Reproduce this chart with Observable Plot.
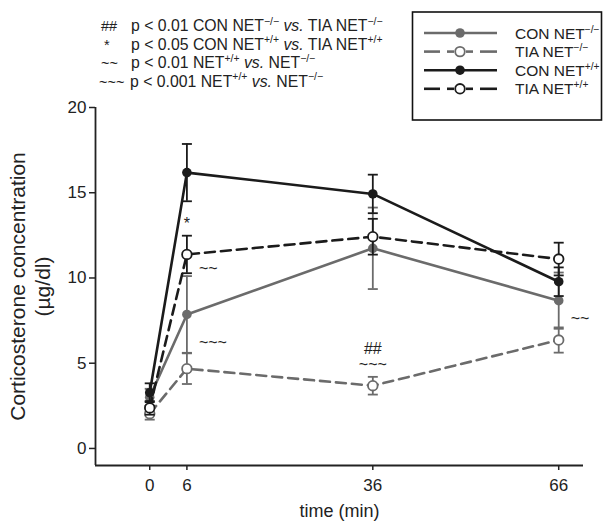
<!DOCTYPE html>
<html>
<head>
<meta charset="utf-8">
<script src="https://cdn.jsdelivr.net/npm/d3@7"></script>
<script src="https://cdn.jsdelivr.net/npm/@observablehq/plot@0.6"></script>
<style>
  html, body { margin: 0; padding: 0; background: #fff; }
  #chart { width: 612px; height: 523px; }
</style>
</head>
<body>
<div id="chart"></div>
<script>
// ---------- data ----------
const times = [0, 6, 36, 66];
const yTicks = [0, 5, 10, 15, 20];

const conKO_mean = [3.0, 7.86, 11.74, 8.67];
const conKO_se   = [0.5, 2.25, 2.39, 1.65];
const tiaKO_mean = [2.04, 4.68, 3.68, 6.36];
const tiaKO_se   = [0.35, 0.9, 0.52, 0.74];
const conWT_mean = [3.27, 16.18, 14.93, 9.78];
const conWT_se   = [0.55, 1.68, 1.13, 0.84];
const tiaWT_mean = [2.38, 11.38, 12.42, 11.11];
const tiaWT_se   = [0.4, 1.1, 1.05, 0.96];

// significance marks placed in data space (time, value)
const annoTime  = [6, 6, 6, 36, 36, 66];
const annoValue = [13.19, 10.55, 6.22, 5.83, 4.91, 7.61];
const annoText  = ["*", "~~", "~~~", "##", "~~~", "~~"];
const annoSide  = ["center", "right", "right", "center", "center", "right"];

const xLabel = "time (min)";
const yLabel1 = "Corticosterone concentration";
const yLabel2 = "(µg/dl)";

// ---------- styling ----------
const FONT = '"Liberation Sans", Arial, Helvetica, sans-serif';
const GRAY = "#6b6b6b";
const BLACK = "#1b1b1b";

const series = [
  {name: "CON", geno: "−/−", mean: conKO_mean, se: conKO_se, color: GRAY, dashed: false},
  {name: "TIA", geno: "−/−", mean: tiaKO_mean, se: tiaKO_se, color: GRAY, dashed: true},
  {name: "CON", geno: "+/+", mean: conWT_mean, se: conWT_se, color: BLACK, dashed: false},
  {name: "TIA", geno: "+/+", mean: tiaWT_mean, se: tiaWT_se, color: BLACK, dashed: true}
];

const capSymbol = {
  draw(ctx, size) {
    const w = Math.sqrt(size / Math.PI);
    ctx.moveTo(-w, 0);
    ctx.lineTo(w, 0);
  }
};

const seriesMarks = series.flatMap(s => {
  const rows = times.map((t, i) => ({t, mean: s.mean[i], se: s.se[i]}));
  return [
    Plot.ruleX(rows, {x: "t", y1: d => d.mean - d.se, y2: d => d.mean + d.se, stroke: s.color, strokeWidth: 1.8}),
    Plot.dot(rows, {x: "t", y: d => d.mean + d.se, symbol: capSymbol, r: 5, stroke: s.color, strokeWidth: 1.8, fill: "none"}),
    Plot.dot(rows, {x: "t", y: d => d.mean - d.se, symbol: capSymbol, r: 5, stroke: s.color, strokeWidth: 1.8, fill: "none"}),
    Plot.line(rows, {x: "t", y: "mean", stroke: s.color, strokeWidth: 2.6,
      strokeDasharray: s.dashed ? "10,6" : null}),
    Plot.dot(rows, {x: "t", y: "mean", r: 4.8,
      fill: s.dashed ? "white" : s.color, stroke: s.color, strokeWidth: s.dashed ? 1.8 : 0})
  ];
});

const annoRows = annoText.map((txt, i) => ({t: annoTime[i], v: annoValue[i], txt, side: annoSide[i]}));

const chart = Plot.plot({
  width: 612,
  height: 523,
  marginLeft: 95,
  marginRight: 29,
  marginTop: 107,
  marginBottom: 58,
  style: {fontFamily: FONT, fontSize: "16px", color: "#222", background: "white", overflow: "visible"},
  x: {domain: [-8.75, 70]},
  y: {domain: [-1, 20]},
  marks: [
    Plot.axisY({ticks: yTicks, tickSize: 6, tickPadding: 3, fontSize: 17, label: null, stroke: "#222", strokeWidth: 1.5}),
    Plot.axisX({ticks: times, tickSize: 5, tickPadding: 8, fontSize: 17, label: null, stroke: "#222", strokeWidth: 1.5, tickFormat: d => String(d)}),
    Plot.ruleX([-8.75], {stroke: "#222", strokeWidth: 1.8}),
    Plot.ruleY([-1], {stroke: "#222", strokeWidth: 1.8}),
    Plot.text([xLabel], {text: d => d, frameAnchor: "bottom", dy: 51, fontSize: 18, fill: "#222"}),
    Plot.text([yLabel1], {text: d => d, frameAnchor: "left", textAnchor: "middle", rotate: -90, dx: -77, fontSize: 21, fill: "#222"}),
    Plot.text([yLabel2], {text: d => d, frameAnchor: "left", textAnchor: "middle", rotate: -90, dx: -52, fontSize: 21, fill: "#222"}),
    ...seriesMarks,
    Plot.text(annoRows.filter(d => d.side === "center"), {x: "t", y: "v", text: "txt", fontSize: 16, fill: "#222"}),
    Plot.text(annoRows.filter(d => d.side === "right"), {x: "t", y: "v", text: "txt", fontSize: 16, fill: "#222", textAnchor: "start", dx: 12})
  ]
});

document.getElementById("chart").appendChild(chart);

// ---------- legend & significance key (rich text with superscripts) ----------
const svg = d3.select(chart);

function rich(g, x, y, parts, size) {
  const t = g.append("text").attr("x", x).attr("y", y).attr("text-anchor", "start")
    .attr("font-family", FONT).attr("font-size", size).attr("fill", "#222");
  let shifted = false;
  parts.forEach(p => {
    const ts = t.append("tspan").text(p.t);
    if (p.sup) {
      ts.attr("font-size", size * 0.66).attr("dy", -size * 0.38);
      shifted = true;
    } else if (shifted) {
      ts.attr("dy", size * 0.38);
      shifted = false;
    }
    if (p.it) ts.attr("font-style", "italic");
  });
  return t;
}

// key at top-left
const key = svg.append("g");
const keyRows = [
  {sym: "##", parts: [{t: "p < 0.01 CON NET"}, {t: "−/−", sup: true}, {t: " "}, {t: "vs.", it: true}, {t: " TIA NET"}, {t: "−/−", sup: true}]},
  {sym: "*", parts: [{t: "p < 0.05 CON NET"}, {t: "+/+", sup: true}, {t: " "}, {t: "vs.", it: true}, {t: " TIA NET"}, {t: "+/+", sup: true}]},
  {sym: "~~", parts: [{t: "p < 0.01 NET"}, {t: "+/+", sup: true}, {t: " "}, {t: "vs.", it: true}, {t: " NET"}, {t: "−/−", sup: true}]},
  {sym: "~~~", parts: [{t: "p < 0.001 NET"}, {t: "+/+", sup: true}, {t: " "}, {t: "vs.", it: true}, {t: " NET"}, {t: "−/−", sup: true}]}
];
keyRows.forEach((r, i) => {
  const y = 31 + i * 18.5;
  key.append("text").attr("x", r.sym === "*" ? 104 : (r.sym === "~~~" ? 99 : 101)).attr("y", y).attr("text-anchor", "start")
    .attr("font-family", FONT).attr("font-size", 14.5).attr("fill", "#222").text(r.sym);
  rich(key, r.sym === "~~~" ? 130 : 131, y, r.parts, 15.8);
});

// legend box
const leg = svg.append("g");
leg.append("rect").attr("x", 412.5).attr("y", 12).attr("width", 189).attr("height", 108)
  .attr("fill", "white").attr("stroke", "#111").attr("stroke-width", 1.6);
series.forEach((s, i) => {
  const y = 33 + i * 18.6;
  if (s.dashed) {
    [[424, 440], [447, 454], [466, 473], [480, 497]].forEach(([a, b]) =>
      leg.append("line").attr("x1", a).attr("x2", b).attr("y1", y).attr("y2", y)
        .attr("stroke", s.color).attr("stroke-width", 2.6));
  } else {
    leg.append("line").attr("x1", 424).attr("x2", 497).attr("y1", y).attr("y2", y)
      .attr("stroke", s.color).attr("stroke-width", 2.6);
  }
  leg.append("circle").attr("cx", 460).attr("cy", y).attr("r", 4.8)
    .attr("fill", s.dashed ? "white" : s.color)
    .attr("stroke", s.color).attr("stroke-width", s.dashed ? 1.8 : 0);
  rich(leg, 515, y + 5.5, [{t: s.name + " NET"}, {t: s.geno, sup: true}], 15.5);
});
</script>
</body>
</html>
